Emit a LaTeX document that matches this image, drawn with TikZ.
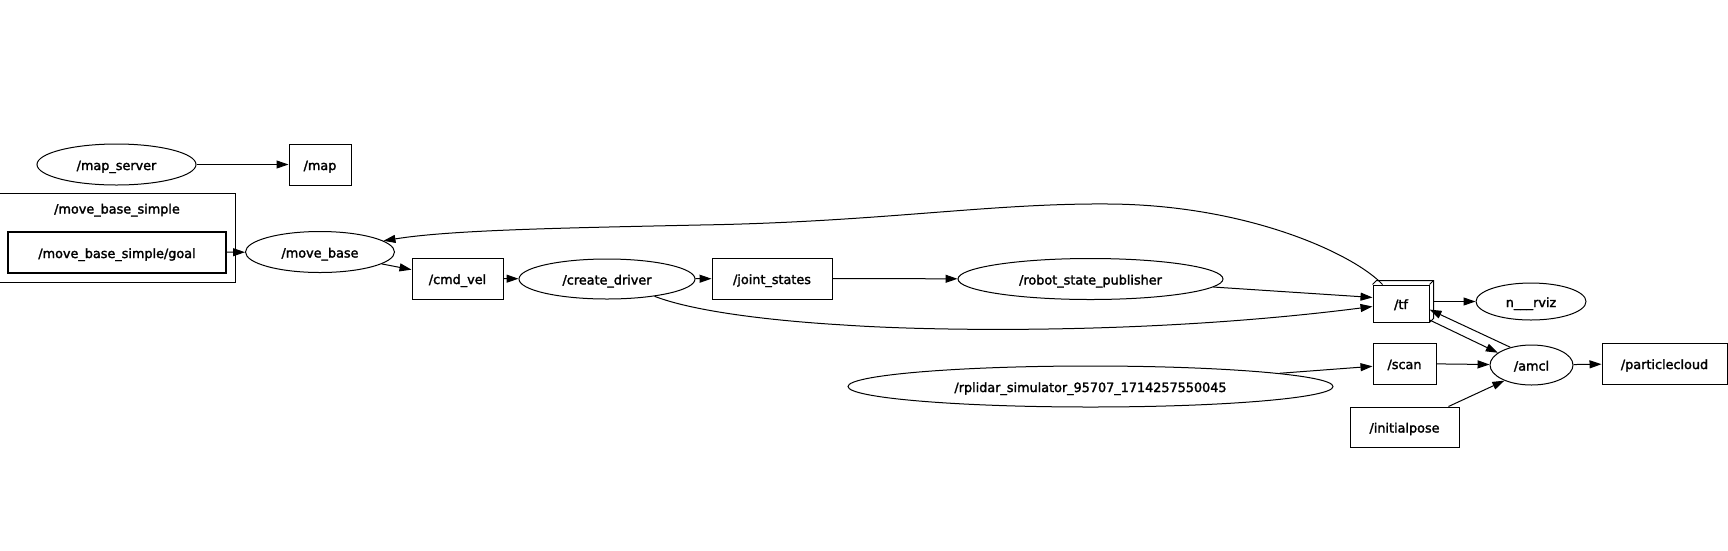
\documentclass[tikz,border=0pt]{standalone}
\usepackage{fontspec}
\setmainfont{DejaVu Sans}
\newfontfamily\graphfont{DejaVu Sans}[FakeBold=2]
\usetikzlibrary{arrows.meta,shapes.geometric}

\begin{document}
\begin{tikzpicture}[x=1pt, y=-1pt, >={Triangle[length=12pt,width=8pt]},
    every node/.style={font=\graphfont\fontsize{12.8}{14}\selectfont, inner sep=0pt,
        text height=12.5pt, text depth=1.5pt},
    topic/.style={draw, rectangle, line width=1pt, minimum height=41pt},
    rosnode/.style={draw, ellipse, line width=1pt, minimum height=41pt},
    link/.style={->, line width=1pt}]
    \useasboundingbox (0,0) rectangle (1728,550);

    % Cluster
    \node[draw, line width=1pt, minimum width=236pt, minimum height=89pt] (mbscluster) at (117,237.5) {};
    \node (mbstitle) at (117,208) {/move\_base\_simple};

    % Nodes and topics
    \node[rosnode, minimum width=159pt] (mapserver) at (116.5,164.5) {/map\_server};
    \node[topic, minimum width=62pt] (map) at (320,164.5) {/map};
    \node[topic, line width=2pt, minimum width=218pt] (goal) at (117,252.5) {/move\_base\_simple/goal};
    \node[rosnode, minimum width=149pt] (movebase) at (320,252) {/move\_base};
    \node[topic, minimum width=91pt] (cmdvel) at (457.5,278.5) {/cmd\_vel};
    \node[rosnode, minimum width=176pt, minimum height=40pt] (createdriver) at (607,279) {/create\_driver};
    \node[topic, minimum width=120pt] (jointstates) at (772,278.5) {/joint\_states};
    \node[rosnode, minimum width=265pt] (rsp) at (1090.5,279) {/robot\_state\_publisher};
    \node[topic, minimum width=56pt, minimum height=37pt] (tf) at (1401,303.5) {/tf};
    \node[rosnode, minimum width=110pt, minimum height=37pt] (rviz) at (1531,301.5) {n\_\_\_rviz};
    \node[rosnode, minimum width=83pt, minimum height=40pt] (amcl) at (1531.5,365) {/amcl};
    \node[topic, minimum width=125pt] (particlecloud) at (1664.5,363.5) {/particlecloud};
    \node[topic, minimum width=63pt] (scan) at (1404.5,363.5) {/scan};
    \node[rosnode, minimum width=485pt] (rplidar) at (1090.5,386.5) {/rplidar\_simulator\_95707\_1714257550045};
    \node[topic, minimum width=109pt, minimum height=40pt] (initialpose) at (1404.5,427) {/initialpose};

    % 3d sides of /tf
    \draw[line width=1pt] (tf.north west) -- ++(4,-4) -| ([shift={(4,-4)}]tf.south east) -- (tf.south east);
    \draw[line width=1pt] (tf.north east) -- ++(4,-4);

    % Edges
    \draw[link] (mapserver) -- (map);
    \draw[link] (goal) -- (movebase);
    \draw[link] (movebase) -- (cmdvel);
    \draw[link] (cmdvel) -- (createdriver);
    \draw[link] (createdriver) -- (jointstates);
    \draw[link] (jointstates) -- (rsp);
    \draw[link] (rsp) -- (tf.168);
    \draw[link] (createdriver.-20) .. controls (690,310) and (760,320) .. (844,325)
        .. controls (930,331) and (1150,335) .. (tf.186);
    \draw[link] ([xshift=10pt]tf.north west) .. controls (1355,255) and (1250,205) .. (1109,204)
        .. controls (990,203) and (880,222) .. (700,225)
        .. controls (560,228) and (450,230) .. (movebase.10);
    \draw[link] ([xshift=4pt]tf.east |- rviz.west) -- (rviz);
    \draw[link] (tf.-30) -- (amcl.160);
    \draw[link] (amcl.140) -- (tf.-12);
    \draw[link] (rplidar.4) -- (scan.185);
    \draw[link] (scan) -- (amcl);
    \draw[link] (initialpose.25) -- (amcl.-150);
    \draw[link] (amcl) -- (particlecloud);
\end{tikzpicture}
\end{document}
